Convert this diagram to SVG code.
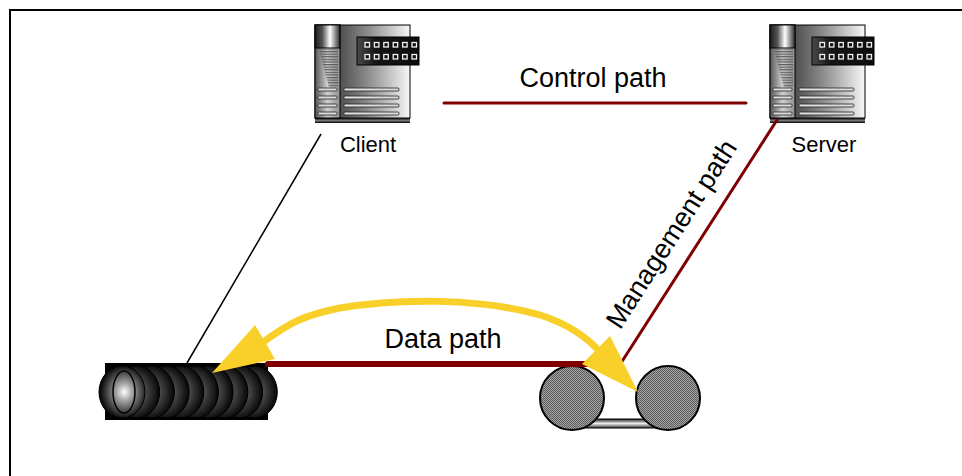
<svg xmlns="http://www.w3.org/2000/svg" width="962" height="476" viewBox="0 0 962 476">
  <defs>
    <style>
      .label { font-family: "Liberation Sans", Arial, sans-serif; fill: #000; }
      .big { font-size: 27px; }
      .small { font-size: 22px; }
      .red { stroke: #800000; fill: none; stroke-linecap: round; }
      .bar { fill: #dcdcdc; stroke: #222; stroke-width: 0.8; }
      .dot { fill: #111; stroke: #f2f2f2; stroke-width: 1.3; }
      .disc { fill: url(#discGrad); stroke: #000; stroke-width: 1; }
      .reel { fill: url(#dither); stroke: #000; stroke-width: 2; }
      .yellow { fill: #f9cf2a; }
    </style>
    <linearGradient id="bodyGrad" x1="0" y1="0" x2="1" y2="0">
      <stop offset="0" stop-color="#1a1a1a"/>
      <stop offset="0.55" stop-color="#8a8a8a"/>
      <stop offset="1" stop-color="#f7f7f7"/>
    </linearGradient>
    <linearGradient id="towerGrad" x1="0" y1="0" x2="1" y2="0">
      <stop offset="0" stop-color="#555"/>
      <stop offset="0.5" stop-color="#cfcfcf"/>
      <stop offset="1" stop-color="#8f8f8f"/>
    </linearGradient>
    <linearGradient id="capGrad" x1="0" y1="0" x2="1" y2="0">
      <stop offset="0" stop-color="#1c1c1c"/>
      <stop offset="0.3" stop-color="#555"/>
      <stop offset="0.6" stop-color="#ffffff"/>
      <stop offset="1" stop-color="#2a2a2a"/>
    </linearGradient>
    <linearGradient id="panelGrad" x1="0" y1="0" x2="1" y2="0">
      <stop offset="0" stop-color="#4a4a4a"/>
      <stop offset="0.3" stop-color="#151515"/>
      <stop offset="1" stop-color="#0d0d0d"/>
    </linearGradient>
    <linearGradient id="baseGrad" x1="0" y1="0" x2="0" y2="1">
      <stop offset="0" stop-color="#000"/>
      <stop offset="0.5" stop-color="#777"/>
      <stop offset="1" stop-color="#000"/>
    </linearGradient>
    <pattern id="stripes" width="4" height="2.6" patternUnits="userSpaceOnUse">
      <rect width="4" height="1.2" fill="#5a5a5a"/>
    </pattern>
    <radialGradient id="discGrad" cx="0.45" cy="0.5" r="0.55">
      <stop offset="0" stop-color="#8e8e8e"/>
      <stop offset="0.55" stop-color="#3b3b3b"/>
      <stop offset="1" stop-color="#050505"/>
    </radialGradient>
    <radialGradient id="frontGrad" cx="0.55" cy="0.5" r="0.55">
      <stop offset="0" stop-color="#ffffff"/>
      <stop offset="0.35" stop-color="#9a9a9a"/>
      <stop offset="0.8" stop-color="#2a2a2a"/>
      <stop offset="1" stop-color="#000"/>
    </radialGradient>
    <linearGradient id="axleGrad" x1="0" y1="0" x2="0" y2="1">
      <stop offset="0" stop-color="#222"/>
      <stop offset="0.5" stop-color="#eee"/>
      <stop offset="1" stop-color="#333"/>
    </linearGradient>
    <pattern id="dither" width="2" height="2" patternUnits="userSpaceOnUse">
      <rect width="2" height="2" fill="#a4a4a4"/>
      <rect width="1" height="1" fill="#5c5c5c"/>
      <rect x="1" y="1" width="1" height="1" fill="#5c5c5c"/>
    </pattern>

    <!-- Workstation icon, origin at the top-left of the cabinet -->
    <symbol id="server-icon" overflow="visible">
      <rect x="0" y="0" width="95" height="98" fill="#000"/>
      <rect x="0" y="0" width="95" height="93" fill="url(#bodyGrad)" stroke="#000" stroke-width="1"/>
      <rect x="0" y="93" width="95" height="5" fill="url(#baseGrad)"/>
      <rect x="0" y="0" width="25" height="93" fill="url(#towerGrad)" stroke="#000" stroke-width="1"/>
      <polygon points="4,24 23,24 23,62 14,62" fill="url(#stripes)"/>
      <rect x="0" y="0" width="25" height="23" fill="url(#capGrad)" stroke="#000" stroke-width="1"/>
      <rect x="3" y="63" width="19" height="3" rx="1" class="bar"/>
      <rect x="3" y="71" width="19" height="3" rx="1" class="bar"/>
      <rect x="3" y="79" width="19" height="3" rx="1" class="bar"/>
      <rect x="3" y="87" width="19" height="3" rx="1" class="bar"/>
      <rect x="29" y="63" width="55" height="3" rx="1" class="bar"/>
      <rect x="29" y="71" width="55" height="3" rx="1" class="bar"/>
      <rect x="29" y="79" width="55" height="3" rx="1" class="bar"/>
      <rect x="29" y="87" width="55" height="3" rx="1" class="bar"/>
      <rect x="42" y="12" width="62" height="28" fill="url(#panelGrad)" stroke="#000" stroke-width="1"/>
      <g>
        <rect x="50" y="17.5" width="4.5" height="4.5" class="dot"/>
        <rect x="59.4" y="17.5" width="4.5" height="4.5" class="dot"/>
        <rect x="68.8" y="17.5" width="4.5" height="4.5" class="dot"/>
        <rect x="78.2" y="17.5" width="4.5" height="4.5" class="dot"/>
        <rect x="87.6" y="17.5" width="4.5" height="4.5" class="dot"/>
        <rect x="97" y="17.5" width="4.5" height="4.5" class="dot"/>
        <rect x="50" y="29.5" width="4.5" height="4.5" class="dot"/>
        <rect x="59.4" y="29.5" width="4.5" height="4.5" class="dot"/>
        <rect x="68.8" y="29.5" width="4.5" height="4.5" class="dot"/>
        <rect x="78.2" y="29.5" width="4.5" height="4.5" class="dot"/>
        <rect x="87.6" y="29.5" width="4.5" height="4.5" class="dot"/>
        <rect x="97" y="29.5" width="4.5" height="4.5" class="dot"/>
      </g>
    </symbol>
  </defs>

  <rect width="962" height="476" fill="#fff"/>
  <!-- page frame -->
  <rect x="10" y="10" width="980" height="500" fill="none" stroke="#000" stroke-width="2"/>

  <!-- tape drive -->
  <g id="tape-drive">
    <rect x="105" y="363" width="163" height="57" fill="#000"/>
    <ellipse cx="254.3" cy="392" rx="23" ry="26" class="disc"/>
    <ellipse cx="239.6" cy="392" rx="23" ry="26" class="disc"/>
    <ellipse cx="224.9" cy="392" rx="23" ry="26" class="disc"/>
    <ellipse cx="210.2" cy="392" rx="23" ry="26" class="disc"/>
    <ellipse cx="195.5" cy="392" rx="23" ry="26" class="disc"/>
    <ellipse cx="180.8" cy="392" rx="23" ry="26" class="disc"/>
    <ellipse cx="166.1" cy="392" rx="23" ry="26" class="disc"/>
    <ellipse cx="151.4" cy="392" rx="23" ry="26" class="disc"/>
    <ellipse cx="136.7" cy="392" rx="23" ry="26" class="disc"/>
    <ellipse cx="122" cy="392" rx="23" ry="26" fill="url(#frontGrad)" stroke="#000" stroke-width="1"/>
    <ellipse cx="124" cy="392" rx="11" ry="21" fill="none" stroke="#000" stroke-width="1.5"/>
  </g>

  <!-- tape library -->
  <g id="tape-library">
    <rect x="578" y="419" width="84" height="9" fill="url(#axleGrad)" stroke="#000" stroke-width="1"/>
    <circle cx="572" cy="398" r="32" class="reel"/>
    <circle cx="668" cy="398" r="32" class="reel"/>
  </g>

  <!-- client workstation -->
  <g id="client">
    <use href="#server-icon" x="315" y="25"/>
    <text x="368" y="152" text-anchor="middle" class="label small">Client</text>
  </g>

  <!-- server workstation -->
  <g id="server">
    <use href="#server-icon" x="770" y="25"/>
    <text x="824" y="152" text-anchor="middle" class="label small">Server</text>
  </g>

  <!-- connectors -->
  <g id="connectors">
    <line x1="321" y1="134" x2="187" y2="363" stroke="#000" stroke-width="1.5"/>
    <line x1="444" y1="103" x2="746" y2="103" class="red" stroke-width="3"/>
    <line x1="777" y1="120" x2="621" y2="363" class="red" stroke-width="3"/>
    <line x1="268" y1="364" x2="592" y2="364" class="red" stroke-width="6" stroke-linecap="butt"/>
    <path d="M262,343 C290,322 305,315 340,308 C400,298 480,298 540,315 C565,323 585,335 600,352" fill="none" stroke="#f9cf2a" stroke-width="7"/>
    <polygon points="212,373 275,359 255,325" class="yellow"/>
    <polygon points="638,392 582,364 610,336" class="yellow"/>
  </g>

  <!-- connector labels -->
  <text x="593" y="87" text-anchor="middle" class="label big">Control path</text>
  <text x="443" y="348" text-anchor="middle" class="label big">Data path</text>
  <text x="679" y="239" text-anchor="middle" transform="rotate(-57.3 679 239)" class="label big">Management path</text>
</svg>
